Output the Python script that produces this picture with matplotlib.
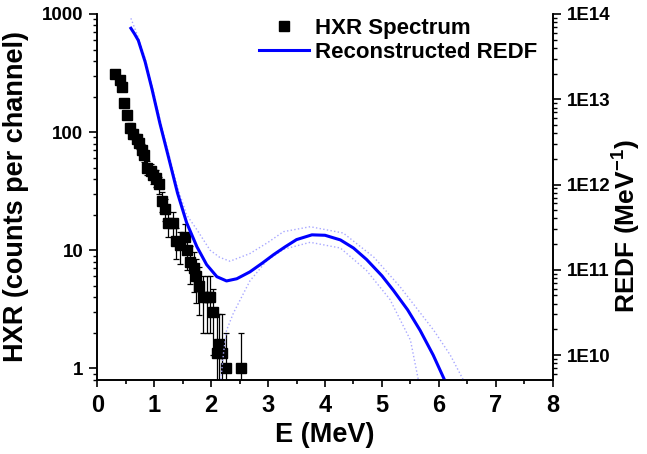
import numpy as np
import matplotlib
matplotlib.use("Agg")
import matplotlib.pyplot as plt
from matplotlib.lines import Line2D
from matplotlib.ticker import LogLocator, NullFormatter, FuncFormatter, MultipleLocator

plt.rcParams['font.family'] = ['Liberation Sans', 'DejaVu Sans']
plt.rcParams['font.weight'] = 'bold'
plt.rcParams['mathtext.fontset'] = 'custom'
plt.rcParams['mathtext.bf'] = 'Liberation Sans:bold'
plt.rcParams['mathtext.rm'] = 'Liberation Sans:bold'
plt.rcParams['mathtext.default'] = 'bf'

# HXR spectrum (counts per channel)
hxr_E = [0.31, 0.39, 0.43, 0.47, 0.53, 0.58, 0.63, 0.69, 0.74, 0.78, 0.82, 0.88,
         0.94, 0.98, 1.03, 1.08, 1.13, 1.19, 1.25, 1.33, 1.38, 1.45, 1.54, 1.58,
         1.63, 1.69, 1.74, 1.78, 1.85, 1.92, 1.98, 2.04, 2.10, 2.14, 2.19, 2.26, 2.52]
hxr_counts = [312, 277, 240, 176, 140, 108, 97, 87, 81, 71, 64, 50,
              47, 43, 41, 36, 26, 22.5, 17, 17, 12, 11, 13, 10,
              8, 7, 6, 5, 4, 4, 4, 3, 1.35, 1.6, 1.35, 1, 1]
hxr_err = [17.7, 16.6, 15.5, 13.3, 11.8, 10.4, 9.8, 9.3, 9.0, 8.4, 8.0, 7.1,
           6.9, 6.6, 6.4, 6.0, 5.1, 4.7, 4.1, 4.1, 3.5, 3.3, 3.6, 3.2,
           2.8, 2.6, 2.4, 2.2, 2.0, 2.0, 2.0, 1.7, 1.55, 1.3, 1.55, 1.0, 1.0]

# reconstructed REDF (MeV^-1)
redf_E = [0.59, 0.65, 0.72, 0.84, 0.96, 1.10, 1.25, 1.41, 1.57, 1.75, 1.92, 2.10,
          2.27, 2.45, 2.68, 2.90, 3.10, 3.30, 3.50, 3.77, 4.00, 4.27, 4.50, 4.73,
          5.00, 5.20, 5.45, 5.67, 5.90, 6.10]
redf = [6.8e13, 5.9e13, 4.9e13, 2.75e13, 1.32e13, 5.2e12, 2.1e12, 7.9e11, 3.55e11,
        1.86e11, 1.15e11, 8.3e10, 7.4e10, 7.85e10, 9.45e10, 1.2e11, 1.51e11, 1.86e11,
        2.26e11, 2.57e11, 2.54e11, 2.24e11, 1.8e11, 1.32e11, 8.5e10, 5.75e10, 3.4e10,
        1.95e10, 1.0e10, 5.1e9]

# error band, upper and lower
up_E = [0.59, 0.72, 0.84, 0.96, 1.10, 1.25, 1.41, 1.57, 1.75, 1.98, 2.15, 2.33,
        2.68, 3.00, 3.27, 3.74, 4.32, 4.86, 5.32, 5.91, 6.20, 6.43]
redf_up = [8.9e13, 5.3e13, 3.0e13, 1.45e13, 5.8e12, 2.35e12, 9.2e11, 4.4e11, 2.95e11,
           1.7e11, 1.4e11, 1.26e11, 1.55e11, 2.1e11, 2.8e11, 3.2e11, 2.7e11, 1.4e11,
           6.3e10, 1.95e10, 1.0e10, 5.1e9]
lo_E = [2.17, 2.22, 2.27, 2.39, 2.68, 2.98, 3.27, 3.74, 4.27, 4.73, 5.14, 5.50, 5.64]
redf_lo = [5.2e9, 1.1e10, 1.95e10, 3.1e10, 7.4e10, 1.29e11, 1.74e11, 2.1e11, 1.8e11,
           9.8e10, 4.5e10, 1.5e10, 5.1e9]

fig = plt.figure(figsize=(6.47, 4.54), dpi=100)
ax = fig.add_axes([0.1504, 0.1630, 0.7039, 0.8062])
ax2 = ax.twinx()

ax.errorbar(hxr_E, hxr_counts, yerr=hxr_err, fmt='s', color='black',
            ms=6.5, ecolor='black', elinewidth=0.9, capsize=2.5, capthick=0.9)
ax2.plot(up_E, redf_up, ls=':', color='#a8a8ff', lw=1.0)
ax2.plot(lo_E, redf_lo, ls=':', color='#a8a8ff', lw=1.0)
h2, = ax2.plot(redf_E, redf, color='#0000ff', lw=2.2)

ax.set_yscale('log')
ax2.set_yscale('log')
ax.set_xlim(0, 8)
ax.set_ylim(0.796, 1000)
ax2.set_ylim(5.1e9, 1e14)

for a in (ax, ax2):
    a.spines['top'].set_visible(False)
    for s in a.spines.values():
        s.set_linewidth(1.2)

ax.xaxis.set_major_locator(MultipleLocator(1))
ax.xaxis.set_minor_locator(MultipleLocator(0.5))
ax.tick_params(axis='x', which='major', direction='out', length=5, width=1.2,
               labelsize=17, pad=5)
ax.tick_params(axis='x', which='minor', direction='out', length=3, width=1.2)

ax.yaxis.set_major_locator(LogLocator(base=10))
ax.yaxis.set_minor_locator(LogLocator(base=10, subs=np.arange(2, 10)))
ax.yaxis.set_minor_formatter(NullFormatter())
ax.yaxis.set_major_formatter(FuncFormatter(lambda v, p: f"{v:g}"))
ax.tick_params(axis='y', which='major', direction='out', length=6, width=1.2,
               labelsize=13.5, pad=4)
ax.tick_params(axis='y', which='minor', direction='out', length=3, width=1.0)

ax2.yaxis.set_major_locator(LogLocator(base=10))
ax2.yaxis.set_minor_locator(LogLocator(base=10, subs=np.arange(2, 10)))
ax2.yaxis.set_minor_formatter(NullFormatter())
ax2.yaxis.set_major_formatter(FuncFormatter(lambda v, p: f"1E{int(round(np.log10(v)))}"))
ax2.tick_params(axis='y', which='major', direction='out', length=6, width=1.2,
                labelsize=13.5, pad=4)
ax2.tick_params(axis='y', which='minor', direction='out', length=3, width=1.0)

ax.set_xlabel('E (MeV)', fontsize=19.5, fontweight='bold', labelpad=4)
ax.set_ylabel('HXR (counts per channel)', fontsize=19.5, fontweight='bold', labelpad=9)
ax2.set_ylabel(r'REDF (MeV$^{-1}$)', fontsize=19, fontweight='bold')
ax2.yaxis.set_label_coords(1.128, 0.42)

h1 = Line2D([], [], ls='none', marker='s', color='black', ms=6.5)
ax2.legend([h1, h2], ['HXR Spectrum', 'Reconstructed REDF'],
           loc='upper left', bbox_to_anchor=(0.355, 0.99), frameon=False,
           fontsize=16, borderpad=0, borderaxespad=0, handlelength=2.25,
           handletextpad=0.25, labelspacing=0.15)

fig.savefig('out.png', dpi=100)
